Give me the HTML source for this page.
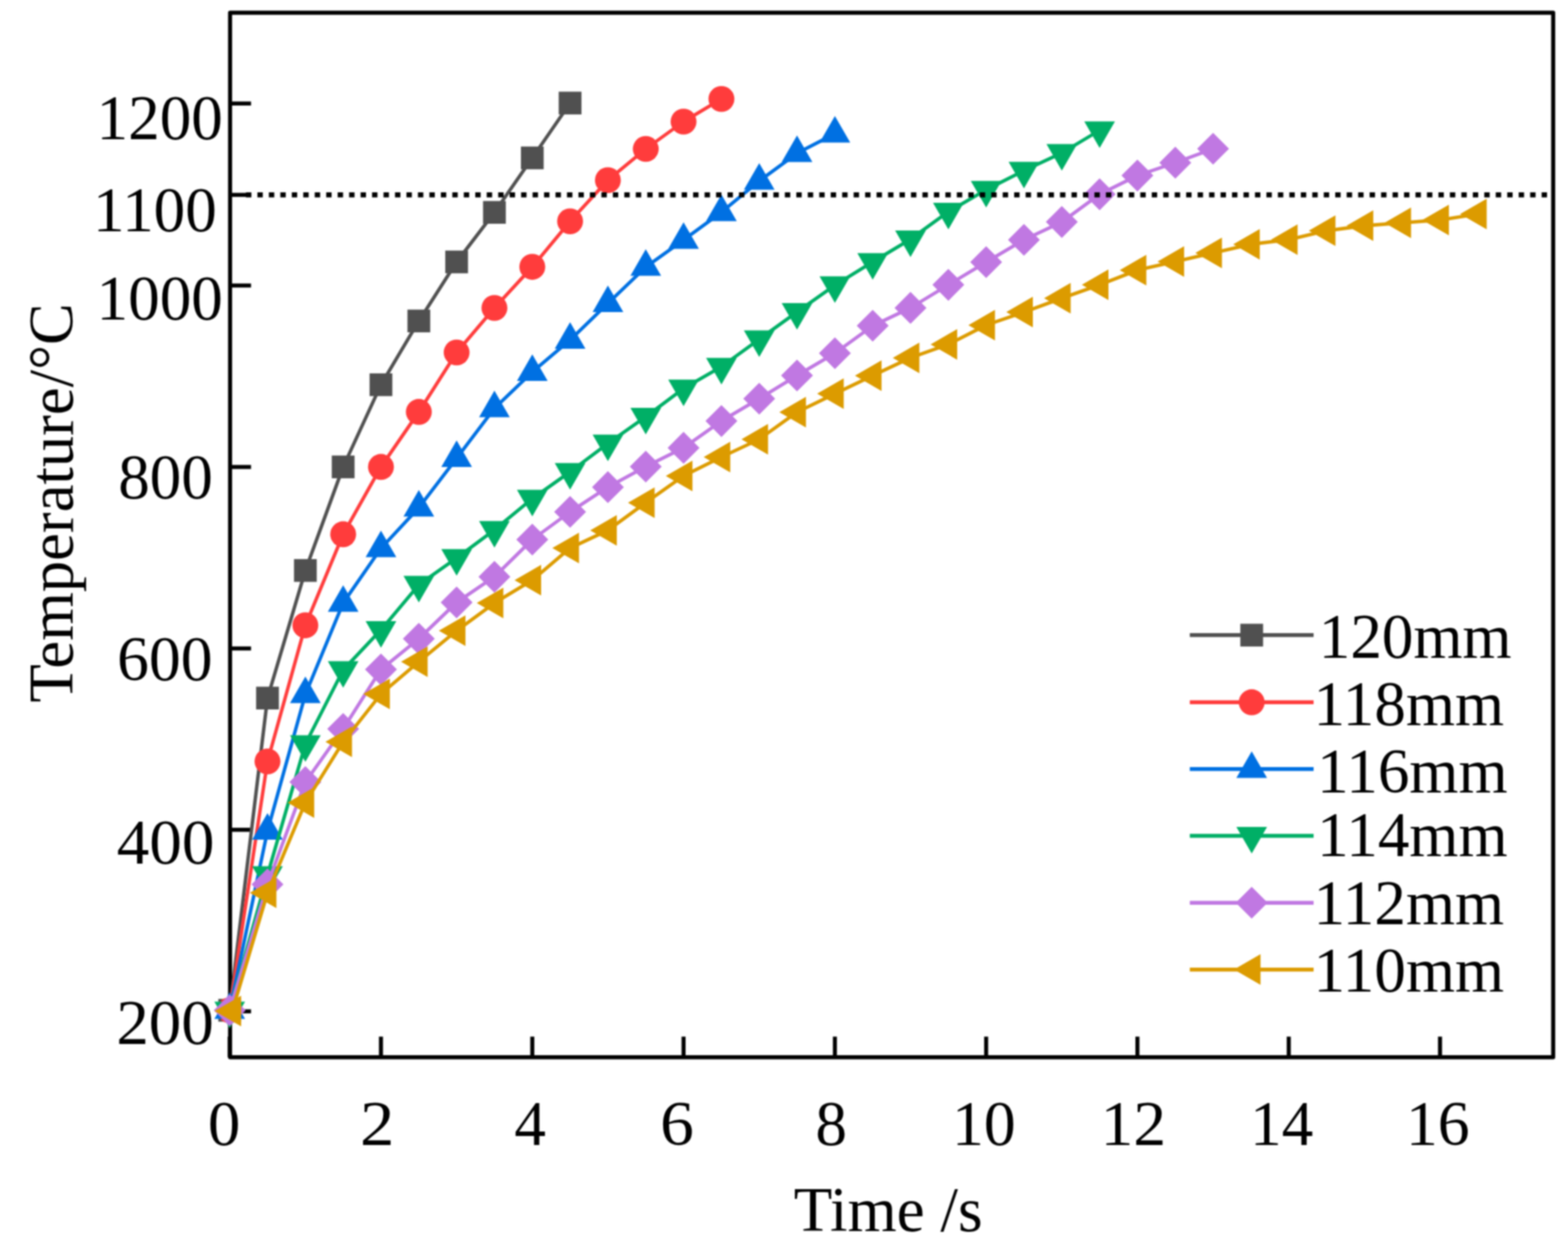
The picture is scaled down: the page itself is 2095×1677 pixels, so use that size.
<!DOCTYPE html>
<html><head><meta charset="utf-8"><title>Temperature vs Time</title>
<style>
html,body{margin:0;padding:0;background:#fff;overflow:hidden;width:2095px;height:1677px;}
svg{display:block;}
text{font-family:'Liberation Serif', 'Times New Roman', serif;font-size:84.3px;fill:#000;}
</style></head>
<body>
<svg width="2095" height="1677" viewBox="0 0 2095 1677">
<defs><filter id="bl" x="0" y="0" width="2095" height="1677" filterUnits="userSpaceOnUse" color-interpolation-filters="sRGB"><feConvolveMatrix order="5" kernelMatrix="1 4 6 4 1 4 16 24 16 4 6 24 36 24 6 4 16 24 16 4 1 4 6 4 1" divisor="256" edgeMode="duplicate" preserveAlpha="false"/></filter></defs>
<rect width="2095" height="1677" fill="#fff"/>
<g filter="url(#bl)">
<rect width="2095" height="1677" fill="#fff"/>
<g id="axes">
<rect x="307.4" y="17.0" width="1767.8" height="1395.7" fill="none" stroke="#000" stroke-width="5.4" stroke-linejoin="round"/>
<line x1="307.4" y1="138.3" x2="335.4" y2="138.3" stroke="#000" stroke-width="5.4"/>
<line x1="307.4" y1="260.4" x2="335.4" y2="260.4" stroke="#000" stroke-width="5.4"/>
<line x1="307.4" y1="381.5" x2="335.4" y2="381.5" stroke="#000" stroke-width="5.4"/>
<line x1="307.4" y1="624.0" x2="335.4" y2="624.0" stroke="#000" stroke-width="5.4"/>
<line x1="307.4" y1="866.5" x2="335.4" y2="866.5" stroke="#000" stroke-width="5.4"/>
<line x1="307.4" y1="1108.8" x2="335.4" y2="1108.8" stroke="#000" stroke-width="5.4"/>
<line x1="307.4" y1="1351.4" x2="335.4" y2="1351.4" stroke="#000" stroke-width="5.4"/>
<line x1="306.9" y1="1412.7" x2="306.9" y2="1385.2" stroke="#000" stroke-width="5.4"/>
<line x1="509.0" y1="1412.7" x2="509.0" y2="1385.2" stroke="#000" stroke-width="5.4"/>
<line x1="711.2" y1="1412.7" x2="711.2" y2="1385.2" stroke="#000" stroke-width="5.4"/>
<line x1="913.3" y1="1412.7" x2="913.3" y2="1385.2" stroke="#000" stroke-width="5.4"/>
<line x1="1115.5" y1="1412.7" x2="1115.5" y2="1385.2" stroke="#000" stroke-width="5.4"/>
<line x1="1317.6" y1="1412.7" x2="1317.6" y2="1385.2" stroke="#000" stroke-width="5.4"/>
<line x1="1519.7" y1="1412.7" x2="1519.7" y2="1385.2" stroke="#000" stroke-width="5.4"/>
<line x1="1721.9" y1="1412.7" x2="1721.9" y2="1385.2" stroke="#000" stroke-width="5.4"/>
<line x1="1924.0" y1="1412.7" x2="1924.0" y2="1385.2" stroke="#000" stroke-width="5.4"/>
</g>
<g id="data">
<polyline points="306.9,1350.0 357.4,932.8 408.0,762.3 458.5,623.9 509.0,514.1 559.6,428.9 610.1,350.0 660.6,283.8 711.2,211.0 761.7,137.7" fill="none" stroke="#505050" stroke-width="4.6" stroke-linejoin="round"/>
<rect x="291.7" y="1334.8" width="30.4" height="30.4" fill="#505050"/>
<rect x="342.2" y="917.6" width="30.4" height="30.4" fill="#505050"/>
<rect x="392.8" y="747.1" width="30.4" height="30.4" fill="#505050"/>
<rect x="443.3" y="608.7" width="30.4" height="30.4" fill="#505050"/>
<rect x="493.8" y="498.9" width="30.4" height="30.4" fill="#505050"/>
<rect x="544.4" y="413.7" width="30.4" height="30.4" fill="#505050"/>
<rect x="594.9" y="334.8" width="30.4" height="30.4" fill="#505050"/>
<rect x="645.4" y="268.6" width="30.4" height="30.4" fill="#505050"/>
<rect x="696.0" y="195.8" width="30.4" height="30.4" fill="#505050"/>
<rect x="746.5" y="122.5" width="30.4" height="30.4" fill="#505050"/>
<polyline points="306.9,1350.0 357.4,1017.5 408.0,835.6 458.5,713.9 509.0,623.9 559.6,550.4 610.1,471.0 660.6,411.5 711.2,356.6 761.7,295.7 812.2,240.8 862.8,199.0 913.3,162.5 963.9,132.2" fill="none" stroke="#FF3C3C" stroke-width="4.6" stroke-linejoin="round"/>
<circle cx="306.9" cy="1350.0" r="17.3" fill="#FF3C3C"/>
<circle cx="357.4" cy="1017.5" r="17.3" fill="#FF3C3C"/>
<circle cx="408.0" cy="835.6" r="17.3" fill="#FF3C3C"/>
<circle cx="458.5" cy="713.9" r="17.3" fill="#FF3C3C"/>
<circle cx="509.0" cy="623.9" r="17.3" fill="#FF3C3C"/>
<circle cx="559.6" cy="550.4" r="17.3" fill="#FF3C3C"/>
<circle cx="610.1" cy="471.0" r="17.3" fill="#FF3C3C"/>
<circle cx="660.6" cy="411.5" r="17.3" fill="#FF3C3C"/>
<circle cx="711.2" cy="356.6" r="17.3" fill="#FF3C3C"/>
<circle cx="761.7" cy="295.7" r="17.3" fill="#FF3C3C"/>
<circle cx="812.2" cy="240.8" r="17.3" fill="#FF3C3C"/>
<circle cx="862.8" cy="199.0" r="17.3" fill="#FF3C3C"/>
<circle cx="913.3" cy="162.5" r="17.3" fill="#FF3C3C"/>
<circle cx="963.9" cy="132.2" r="17.3" fill="#FF3C3C"/>
<polyline points="306.9,1349.8 357.4,1110.3 408.0,927.8 458.5,805.6 509.0,732.8 559.6,678.4 610.1,612.3 660.6,545.7 711.2,497.1 761.7,454.3 812.2,405.3 862.8,356.8 913.3,320.6 963.9,283.6 1014.4,241.8 1064.9,204.8 1115.5,178.6" fill="none" stroke="#0070E2" stroke-width="4.6" stroke-linejoin="round"/>
<polygon points="306.9,1326.1 327.4,1361.6 286.4,1361.6" fill="#0070E2"/>
<polygon points="357.4,1086.6 377.9,1122.1 336.9,1122.1" fill="#0070E2"/>
<polygon points="408.0,904.1 428.5,939.6 387.5,939.6" fill="#0070E2"/>
<polygon points="458.5,781.9 479.0,817.4 438.0,817.4" fill="#0070E2"/>
<polygon points="509.0,709.1 529.5,744.6 488.5,744.6" fill="#0070E2"/>
<polygon points="559.6,654.7 580.1,690.2 539.1,690.2" fill="#0070E2"/>
<polygon points="610.1,588.6 630.6,624.1 589.6,624.1" fill="#0070E2"/>
<polygon points="660.6,522.0 681.1,557.5 640.1,557.5" fill="#0070E2"/>
<polygon points="711.2,473.4 731.7,508.9 690.7,508.9" fill="#0070E2"/>
<polygon points="761.7,430.6 782.2,466.1 741.2,466.1" fill="#0070E2"/>
<polygon points="812.2,381.6 832.8,417.1 791.8,417.1" fill="#0070E2"/>
<polygon points="862.8,333.1 883.3,368.6 842.3,368.6" fill="#0070E2"/>
<polygon points="913.3,296.9 933.8,332.4 892.8,332.4" fill="#0070E2"/>
<polygon points="963.9,259.9 984.4,295.4 943.4,295.4" fill="#0070E2"/>
<polygon points="1014.4,218.1 1034.9,253.6 993.9,253.6" fill="#0070E2"/>
<polygon points="1064.9,181.1 1085.4,216.6 1044.4,216.6" fill="#0070E2"/>
<polygon points="1115.5,154.9 1136.0,190.4 1095.0,190.4" fill="#0070E2"/>
<polyline points="306.9,1350.2 357.4,1169.2 408.0,994.3 458.5,895.2 509.0,841.7 559.6,781.4 610.1,745.6 660.6,708.1 711.2,666.3 761.7,630.5 812.2,592.6 862.8,556.8 913.3,519.1 963.9,490.0 1014.4,453.4 1064.9,416.9 1115.5,381.1 1166.0,350.0 1216.5,319.7 1267.1,282.9 1317.6,253.6 1368.1,228.0 1418.7,204.4 1469.2,174.1" fill="none" stroke="#00AF66" stroke-width="4.6" stroke-linejoin="round"/>
<polygon points="306.9,1373.9 327.4,1338.4 286.4,1338.4" fill="#00AF66"/>
<polygon points="357.4,1192.9 377.9,1157.4 336.9,1157.4" fill="#00AF66"/>
<polygon points="408.0,1018.0 428.5,982.5 387.5,982.5" fill="#00AF66"/>
<polygon points="458.5,918.9 479.0,883.4 438.0,883.4" fill="#00AF66"/>
<polygon points="509.0,865.4 529.5,829.9 488.5,829.9" fill="#00AF66"/>
<polygon points="559.6,805.1 580.1,769.6 539.1,769.6" fill="#00AF66"/>
<polygon points="610.1,769.3 630.6,733.8 589.6,733.8" fill="#00AF66"/>
<polygon points="660.6,731.8 681.1,696.3 640.1,696.3" fill="#00AF66"/>
<polygon points="711.2,690.0 731.7,654.5 690.7,654.5" fill="#00AF66"/>
<polygon points="761.7,654.2 782.2,618.7 741.2,618.7" fill="#00AF66"/>
<polygon points="812.2,616.3 832.8,580.8 791.8,580.8" fill="#00AF66"/>
<polygon points="862.8,580.5 883.3,545.0 842.3,545.0" fill="#00AF66"/>
<polygon points="913.3,542.8 933.8,507.3 892.8,507.3" fill="#00AF66"/>
<polygon points="963.9,513.7 984.4,478.2 943.4,478.2" fill="#00AF66"/>
<polygon points="1014.4,477.1 1034.9,441.6 993.9,441.6" fill="#00AF66"/>
<polygon points="1064.9,440.6 1085.4,405.1 1044.4,405.1" fill="#00AF66"/>
<polygon points="1115.5,404.8 1136.0,369.3 1095.0,369.3" fill="#00AF66"/>
<polygon points="1166.0,373.7 1186.5,338.2 1145.5,338.2" fill="#00AF66"/>
<polygon points="1216.5,343.4 1237.0,307.9 1196.0,307.9" fill="#00AF66"/>
<polygon points="1267.1,306.6 1287.6,271.1 1246.6,271.1" fill="#00AF66"/>
<polygon points="1317.6,277.3 1338.1,241.8 1297.1,241.8" fill="#00AF66"/>
<polygon points="1368.1,251.7 1388.6,216.2 1347.6,216.2" fill="#00AF66"/>
<polygon points="1418.7,228.1 1439.2,192.6 1398.2,192.6" fill="#00AF66"/>
<polygon points="1469.2,197.8 1489.7,162.3 1448.7,162.3" fill="#00AF66"/>
<polyline points="306.9,1350.0 357.4,1181.7 408.0,1045.0 458.5,974.0 509.0,894.6 559.6,853.5 610.1,805.0 660.6,770.7 711.2,721.0 761.7,684.0 812.2,650.9 862.8,623.5 913.3,598.4 963.9,562.6 1014.4,532.8 1064.9,501.8 1115.5,472.0 1166.0,435.3 1216.5,411.4 1267.1,380.6 1317.6,350.3 1368.1,320.5 1418.7,296.6 1469.2,259.6 1519.7,234.6 1570.3,217.4 1620.8,198.8" fill="none" stroke="#C078E2" stroke-width="4.6" stroke-linejoin="round"/>
<polygon points="306.9,1328.7 328.2,1350.0 306.9,1371.3 285.6,1350.0" fill="#C078E2"/>
<polygon points="357.4,1160.4 378.7,1181.7 357.4,1203.0 336.1,1181.7" fill="#C078E2"/>
<polygon points="408.0,1023.7 429.3,1045.0 408.0,1066.3 386.7,1045.0" fill="#C078E2"/>
<polygon points="458.5,952.7 479.8,974.0 458.5,995.3 437.2,974.0" fill="#C078E2"/>
<polygon points="509.0,873.3 530.3,894.6 509.0,915.9 487.7,894.6" fill="#C078E2"/>
<polygon points="559.6,832.2 580.9,853.5 559.6,874.8 538.3,853.5" fill="#C078E2"/>
<polygon points="610.1,783.7 631.4,805.0 610.1,826.3 588.8,805.0" fill="#C078E2"/>
<polygon points="660.6,749.4 681.9,770.7 660.6,792.0 639.3,770.7" fill="#C078E2"/>
<polygon points="711.2,699.7 732.5,721.0 711.2,742.3 689.9,721.0" fill="#C078E2"/>
<polygon points="761.7,662.7 783.0,684.0 761.7,705.3 740.4,684.0" fill="#C078E2"/>
<polygon points="812.2,629.6 833.5,650.9 812.2,672.2 791.0,650.9" fill="#C078E2"/>
<polygon points="862.8,602.2 884.1,623.5 862.8,644.8 841.5,623.5" fill="#C078E2"/>
<polygon points="913.3,577.1 934.6,598.4 913.3,619.7 892.0,598.4" fill="#C078E2"/>
<polygon points="963.9,541.3 985.2,562.6 963.9,583.9 942.6,562.6" fill="#C078E2"/>
<polygon points="1014.4,511.5 1035.7,532.8 1014.4,554.1 993.1,532.8" fill="#C078E2"/>
<polygon points="1064.9,480.5 1086.2,501.8 1064.9,523.1 1043.6,501.8" fill="#C078E2"/>
<polygon points="1115.5,450.7 1136.8,472.0 1115.5,493.3 1094.2,472.0" fill="#C078E2"/>
<polygon points="1166.0,414.0 1187.3,435.3 1166.0,456.6 1144.7,435.3" fill="#C078E2"/>
<polygon points="1216.5,390.1 1237.8,411.4 1216.5,432.7 1195.2,411.4" fill="#C078E2"/>
<polygon points="1267.1,359.3 1288.4,380.6 1267.1,401.9 1245.8,380.6" fill="#C078E2"/>
<polygon points="1317.6,329.0 1338.9,350.3 1317.6,371.6 1296.3,350.3" fill="#C078E2"/>
<polygon points="1368.1,299.2 1389.4,320.5 1368.1,341.8 1346.8,320.5" fill="#C078E2"/>
<polygon points="1418.7,275.3 1440.0,296.6 1418.7,317.9 1397.4,296.6" fill="#C078E2"/>
<polygon points="1469.2,238.3 1490.5,259.6 1469.2,280.9 1447.9,259.6" fill="#C078E2"/>
<polygon points="1519.7,213.3 1541.0,234.6 1519.7,255.9 1498.4,234.6" fill="#C078E2"/>
<polygon points="1570.3,196.1 1591.6,217.4 1570.3,238.7 1549.0,217.4" fill="#C078E2"/>
<polygon points="1620.8,177.5 1642.1,198.8 1620.8,220.1 1599.5,198.8" fill="#C078E2"/>
<polyline points="310.4,1350.9 357.4,1193.0 408.0,1072.4 458.5,991.3 509.0,927.3 559.6,884.3 610.1,842.8 660.6,805.8 711.2,775.3 761.7,732.3 812.2,708.7 862.8,671.7 913.3,635.9 963.9,610.8 1014.4,587.0 1064.9,550.7 1115.5,526.1 1166.0,501.9 1216.5,478.2 1267.1,460.2 1317.6,434.4 1368.1,417.1 1418.7,398.5 1469.2,380.6 1519.7,361.0 1570.3,349.6 1620.8,337.9 1671.3,326.4 1721.9,320.2 1772.4,308.3 1822.9,301.6 1873.5,297.8 1924.0,293.9 1974.6,285.9" fill="none" stroke="#DC9B00" stroke-width="4.6" stroke-linejoin="round"/>
<polygon points="286.7,1350.9 322.2,1330.4 322.2,1371.4" fill="#DC9B00"/>
<polygon points="333.8,1193.0 369.3,1172.5 369.3,1213.5" fill="#DC9B00"/>
<polygon points="384.3,1072.4 419.8,1051.9 419.8,1092.9" fill="#DC9B00"/>
<polygon points="434.8,991.3 470.3,970.8 470.3,1011.8" fill="#DC9B00"/>
<polygon points="485.4,927.3 520.9,906.8 520.9,947.8" fill="#DC9B00"/>
<polygon points="535.9,884.3 571.4,863.8 571.4,904.8" fill="#DC9B00"/>
<polygon points="586.4,842.8 621.9,822.3 621.9,863.3" fill="#DC9B00"/>
<polygon points="637.0,805.8 672.5,785.3 672.5,826.3" fill="#DC9B00"/>
<polygon points="687.5,775.3 723.0,754.8 723.0,795.8" fill="#DC9B00"/>
<polygon points="738.0,732.3 773.6,711.8 773.6,752.8" fill="#DC9B00"/>
<polygon points="788.6,708.7 824.1,688.2 824.1,729.2" fill="#DC9B00"/>
<polygon points="839.1,671.7 874.6,651.2 874.6,692.2" fill="#DC9B00"/>
<polygon points="889.6,635.9 925.2,615.4 925.2,656.4" fill="#DC9B00"/>
<polygon points="940.2,610.8 975.7,590.3 975.7,631.3" fill="#DC9B00"/>
<polygon points="990.7,587.0 1026.2,566.5 1026.2,607.5" fill="#DC9B00"/>
<polygon points="1041.3,550.7 1076.8,530.2 1076.8,571.2" fill="#DC9B00"/>
<polygon points="1091.8,526.1 1127.3,505.6 1127.3,546.6" fill="#DC9B00"/>
<polygon points="1142.3,501.9 1177.8,481.4 1177.8,522.4" fill="#DC9B00"/>
<polygon points="1192.9,478.2 1228.4,457.7 1228.4,498.7" fill="#DC9B00"/>
<polygon points="1243.4,460.2 1278.9,439.7 1278.9,480.7" fill="#DC9B00"/>
<polygon points="1293.9,434.4 1329.4,413.9 1329.4,454.9" fill="#DC9B00"/>
<polygon points="1344.5,417.1 1380.0,396.6 1380.0,437.6" fill="#DC9B00"/>
<polygon points="1395.0,398.5 1430.5,378.0 1430.5,419.0" fill="#DC9B00"/>
<polygon points="1445.5,380.6 1481.0,360.1 1481.0,401.1" fill="#DC9B00"/>
<polygon points="1496.1,361.0 1531.6,340.5 1531.6,381.5" fill="#DC9B00"/>
<polygon points="1546.6,349.6 1582.1,329.1 1582.1,370.1" fill="#DC9B00"/>
<polygon points="1597.1,337.9 1632.6,317.4 1632.6,358.4" fill="#DC9B00"/>
<polygon points="1647.7,326.4 1683.2,305.9 1683.2,346.9" fill="#DC9B00"/>
<polygon points="1698.2,320.2 1733.7,299.7 1733.7,340.7" fill="#DC9B00"/>
<polygon points="1748.7,308.3 1784.3,287.8 1784.3,328.8" fill="#DC9B00"/>
<polygon points="1799.3,301.6 1834.8,281.1 1834.8,322.1" fill="#DC9B00"/>
<polygon points="1849.8,297.8 1885.3,277.3 1885.3,318.3" fill="#DC9B00"/>
<polygon points="1900.3,293.9 1935.9,273.4 1935.9,314.4" fill="#DC9B00"/>
<polygon points="1950.9,285.9 1986.4,265.4 1986.4,306.4" fill="#DC9B00"/>
</g>
<line x1="328.6" y1="260.4" x2="2068" y2="260.4" stroke="#000" stroke-width="6.9" stroke-dasharray="7.2 8.12"/>
<g id="legend">
<line x1="1589.7" y1="848.7" x2="1755.1" y2="848.7" stroke="#505050" stroke-width="5.2"/>
<rect x="1657.2" y="833.5" width="30.4" height="30.4" fill="#505050"/>
<line x1="1589.7" y1="938.4" x2="1755.1" y2="938.4" stroke="#FF3C3C" stroke-width="5.2"/>
<circle cx="1672.4" cy="938.4" r="17.3" fill="#FF3C3C"/>
<line x1="1589.7" y1="1027.7" x2="1755.1" y2="1027.7" stroke="#0070E2" stroke-width="5.2"/>
<polygon points="1672.4,1004.0 1692.9,1039.5 1651.9,1039.5" fill="#0070E2"/>
<line x1="1589.7" y1="1116.8" x2="1755.1" y2="1116.8" stroke="#00AF66" stroke-width="5.2"/>
<polygon points="1672.4,1140.5 1692.9,1105.0 1651.9,1105.0" fill="#00AF66"/>
<line x1="1589.7" y1="1206.3" x2="1755.1" y2="1206.3" stroke="#C078E2" stroke-width="5.2"/>
<polygon points="1672.4,1185.0 1693.7,1206.3 1672.4,1227.6 1651.1,1206.3" fill="#C078E2"/>
<line x1="1589.7" y1="1295.6" x2="1755.1" y2="1295.6" stroke="#DC9B00" stroke-width="5.2"/>
<polygon points="1648.7,1295.6 1684.2,1275.1 1684.2,1316.1" fill="#DC9B00"/>
</g>
<g id="labels">
<text x="129.1" y="185.8" >1200</text>
<text x="124.2" y="309.4" >1100</text>
<text x="129.1" y="426.9" >1000</text>
<text x="157.9" y="666.0" >800</text>
<text transform="translate(159.9 0) scale(1.0080 1) translate(-159.9 0)" x="156.5" y="908.9" >600</text>
<text transform="translate(157.8 0) scale(1.0320 1) translate(-157.8 0)" x="156.1" y="1153.6" >400</text>
<text transform="translate(159.0 0) scale(1.0290 1) translate(-159.0 0)" x="155.6" y="1395.4" >200</text>
<text transform="translate(281.3 0) scale(1.0300 1) translate(-281.3 0)" x="277.9" y="1529.6" >0</text>
<text transform="translate(484.6 0) scale(1.0900 1) translate(-484.6 0)" x="481.2" y="1529.6" >2</text>
<text x="687.3" y="1529.6" >4</text>
<text transform="translate(885.7 0) scale(1.0700 1) translate(-885.7 0)" x="882.3" y="1529.6" >6</text>
<text x="1089.6" y="1529.6" >8</text>
<text transform="translate(1279.6 0) scale(1.0100 1) translate(-1279.6 0)" x="1272.0" y="1529.6" >10</text>
<text transform="translate(1478.3 0) scale(1.0400 1) translate(-1478.3 0)" x="1470.7" y="1529.6" >12</text>
<text x="1670.3" y="1529.6" >14</text>
<text transform="translate(1886.2 0) scale(1.0100 1) translate(-1886.2 0)" x="1878.6" y="1529.6" >16</text>
<text x="1762.0" y="878.6" >120mm</text>
<text x="1755.1" y="968.8" >118mm</text>
<text x="1759.8" y="1059.0" >116mm</text>
<text x="1759.8" y="1144.4" >114mm</text>
<text x="1755.1" y="1234.6" >112mm</text>
<text x="1755.1" y="1324.8" >110mm</text>
<text x="1060.5" y="1645.2">Time /s</text>
<text transform="translate(97.3 938.7) rotate(-90)" style="font-size:83.6px">Temperature/°C</text>
</g>
</g>
</svg>
</body></html>
